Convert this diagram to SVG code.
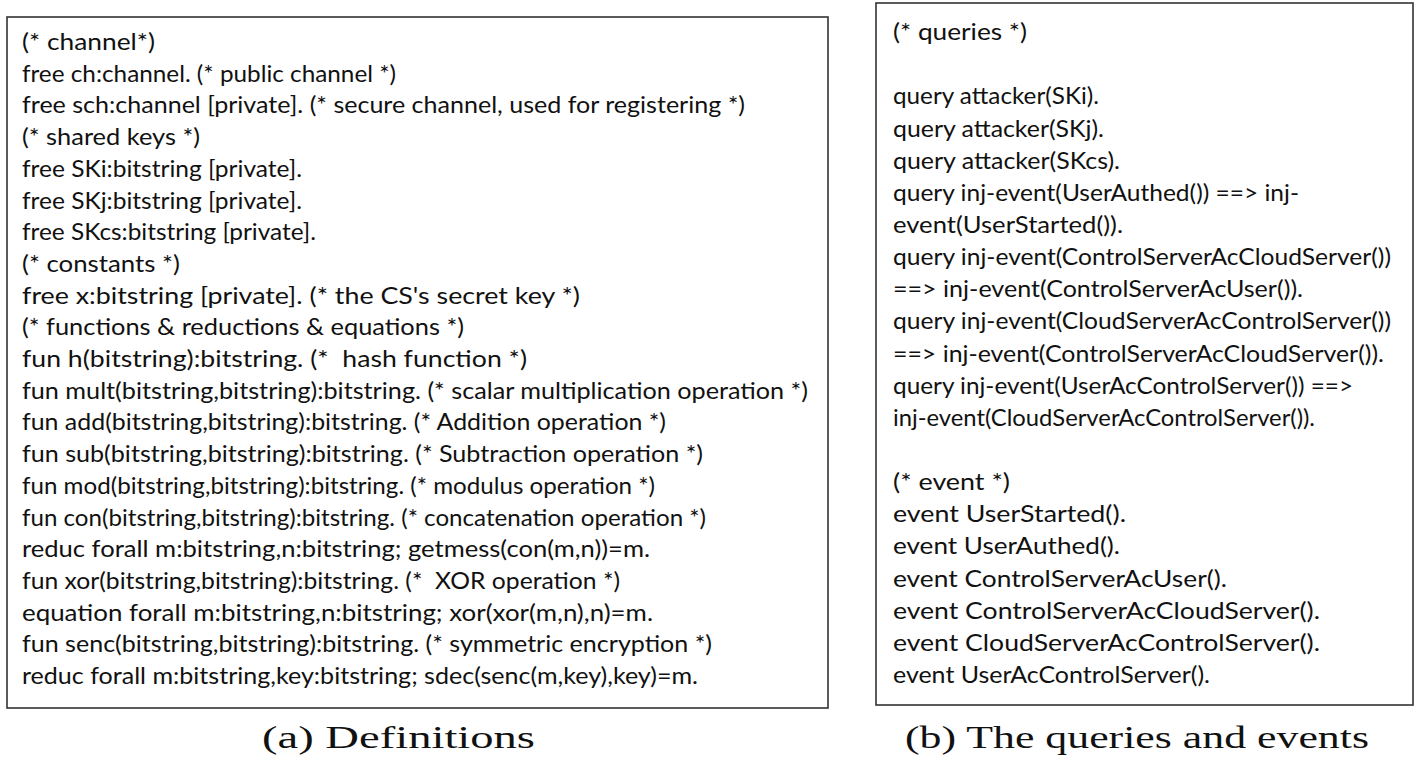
<svg xmlns="http://www.w3.org/2000/svg" width="1416" height="760" viewBox="0 0 1416 760">
<style>
.box{fill:#fff;stroke:#333;stroke-width:1.6}
.t{font-family:Lato,"Open Sans","Liberation Sans",sans-serif;font-size:24px;fill:#111;white-space:pre}
.cap{font-family:"Liberation Serif","DejaVu Serif",serif;font-size:31px;fill:#111}
</style>
<rect width="1416" height="760" fill="#fff"/>
<g id="definitions">
<rect class="box" x="7" y="17" width="821" height="691"/>
<text class="t" x="22" y="50" textLength="133" lengthAdjust="spacingAndGlyphs">(* channel*)</text>
<text class="t" x="22" y="81.7" textLength="374" lengthAdjust="spacingAndGlyphs">free ch:channel. (* public channel *)</text>
<text class="t" x="22" y="113.4" textLength="723" lengthAdjust="spacingAndGlyphs">free sch:channel [private]. (* secure channel, used for registering *)</text>
<text class="t" x="22" y="145.1" textLength="178" lengthAdjust="spacingAndGlyphs">(* shared keys *)</text>
<text class="t" x="22" y="176.8" textLength="280" lengthAdjust="spacingAndGlyphs">free SKi:bitstring [private].</text>
<text class="t" x="22" y="208.5" textLength="280" lengthAdjust="spacingAndGlyphs">free SKj:bitstring [private].</text>
<text class="t" x="22" y="240.2" textLength="294" lengthAdjust="spacingAndGlyphs">free SKcs:bitstring [private].</text>
<text class="t" x="22" y="271.9" textLength="158" lengthAdjust="spacingAndGlyphs">(* constants *)</text>
<text class="t" x="22" y="303.6" textLength="558" lengthAdjust="spacingAndGlyphs">free x:bitstring [private]. (* the CS's secret key *)</text>
<text class="t" x="22" y="335.3" textLength="442" lengthAdjust="spacingAndGlyphs">(* functions &amp; reductions &amp; equations *)</text>
<text class="t" x="22" y="367" textLength="505" lengthAdjust="spacingAndGlyphs">fun h(bitstring):bitstring. (*  hash function *)</text>
<text class="t" x="22" y="398.7" textLength="786" lengthAdjust="spacingAndGlyphs">fun mult(bitstring,bitstring):bitstring. (* scalar multiplication operation *)</text>
<text class="t" x="22" y="430.4" textLength="644" lengthAdjust="spacingAndGlyphs">fun add(bitstring,bitstring):bitstring. (* Addition operation *)</text>
<text class="t" x="22" y="462.1" textLength="681" lengthAdjust="spacingAndGlyphs">fun sub(bitstring,bitstring):bitstring. (* Subtraction operation *)</text>
<text class="t" x="22" y="493.8" textLength="633" lengthAdjust="spacingAndGlyphs">fun mod(bitstring,bitstring):bitstring. (* modulus operation *)</text>
<text class="t" x="22" y="525.5" textLength="684" lengthAdjust="spacingAndGlyphs">fun con(bitstring,bitstring):bitstring. (* concatenation operation *)</text>
<text class="t" x="22" y="557.2" textLength="628" lengthAdjust="spacingAndGlyphs">reduc forall m:bitstring,n:bitstring; getmess(con(m,n))=m.</text>
<text class="t" x="22" y="588.9" textLength="598" lengthAdjust="spacingAndGlyphs">fun xor(bitstring,bitstring):bitstring. (*  XOR operation *)</text>
<text class="t" x="22" y="620.6" textLength="631" lengthAdjust="spacingAndGlyphs">equation forall m:bitstring,n:bitstring; xor(xor(m,n),n)=m.</text>
<text class="t" x="22" y="652.3" textLength="690" lengthAdjust="spacingAndGlyphs">fun senc(bitstring,bitstring):bitstring. (* symmetric encryption *)</text>
<text class="t" x="22" y="684" textLength="676" lengthAdjust="spacingAndGlyphs">reduc forall m:bitstring,key:bitstring; sdec(senc(m,key),key)=m.</text>
</g>
<g id="queries">
<rect class="box" x="876" y="3" width="537" height="702"/>
<text class="t" x="893" y="40" textLength="134" lengthAdjust="spacingAndGlyphs">(* queries *)</text>
<text class="t" x="893" y="104.3" textLength="206" lengthAdjust="spacingAndGlyphs">query attacker(SKi).</text>
<text class="t" x="893" y="136.5" textLength="211" lengthAdjust="spacingAndGlyphs">query attacker(SKj).</text>
<text class="t" x="893" y="168.6" textLength="227" lengthAdjust="spacingAndGlyphs">query attacker(SKcs).</text>
<text class="t" x="893" y="200.8" textLength="406" lengthAdjust="spacingAndGlyphs">query inj-event(UserAuthed()) ==&gt; inj-</text>
<text class="t" x="893" y="232.9" textLength="230" lengthAdjust="spacingAndGlyphs">event(UserStarted()).</text>
<text class="t" x="893" y="265.1" textLength="498" lengthAdjust="spacingAndGlyphs">query inj-event(ControlServerAcCloudServer())</text>
<text class="t" x="893" y="297.2" textLength="410" lengthAdjust="spacingAndGlyphs">==&gt; inj-event(ControlServerAcUser()).</text>
<text class="t" x="893" y="329.4" textLength="498" lengthAdjust="spacingAndGlyphs">query inj-event(CloudServerAcControlServer())</text>
<text class="t" x="893" y="361.5" textLength="491" lengthAdjust="spacingAndGlyphs">==&gt; inj-event(ControlServerAcCloudServer()).</text>
<text class="t" x="893" y="393.7" textLength="460" lengthAdjust="spacingAndGlyphs">query inj-event(UserAcControlServer()) ==&gt;</text>
<text class="t" x="893" y="425.8" textLength="422" lengthAdjust="spacingAndGlyphs">inj-event(CloudServerAcControlServer()).</text>
<text class="t" x="893" y="490.1" textLength="117" lengthAdjust="spacingAndGlyphs">(* event *)</text>
<text class="t" x="893" y="522.3" textLength="233" lengthAdjust="spacingAndGlyphs">event UserStarted().</text>
<text class="t" x="893" y="554.4" textLength="227" lengthAdjust="spacingAndGlyphs">event UserAuthed().</text>
<text class="t" x="893" y="586.6" textLength="334" lengthAdjust="spacingAndGlyphs">event ControlServerAcUser().</text>
<text class="t" x="893" y="618.7" textLength="427" lengthAdjust="spacingAndGlyphs">event ControlServerAcCloudServer().</text>
<text class="t" x="893" y="650.9" textLength="427" lengthAdjust="spacingAndGlyphs">event CloudServerAcControlServer().</text>
<text class="t" x="893" y="683" textLength="317" lengthAdjust="spacingAndGlyphs">event UserAcControlServer().</text>
</g>
<g id="captions">
<text class="cap" x="262" y="748" textLength="273" lengthAdjust="spacingAndGlyphs">(a) Definitions</text>
<text class="cap" x="905" y="748" textLength="464" lengthAdjust="spacingAndGlyphs">(b) The queries and events</text>
</g>
</svg>
